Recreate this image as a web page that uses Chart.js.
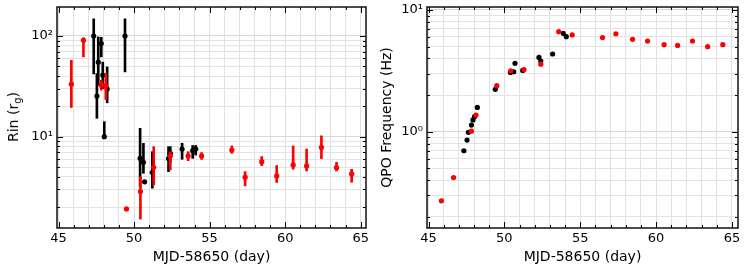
<!DOCTYPE html>
<html>
<head>
<meta charset="utf-8">
<script src="https://cdn.jsdelivr.net/npm/chart.js@4"></script>
<style>
  body { margin: 0; background: #fff; width: 747px; height: 272px; position: relative; overflow: hidden; }
  canvas { position: absolute; top: 0; }
  #left { left: 0; }
  #right { left: 370px; }
  #ylab {
    position: absolute; left: 12.5px; top: 117px;
    transform: translate(-50%, -50%) rotate(-90deg);
    font: 14px "DejaVu Sans"; white-space: nowrap; color: #000;
  }
  #ylab sub { font-size: 70%; vertical-align: -0.3em; line-height: 0; }
</style>
</head>
<body>
<canvas id="left" width="370" height="272"></canvas>
<canvas id="right" width="377" height="272"></canvas>
<div id="ylab">Rin (r<sub>g</sub>)</div>
<script>
// ====== DATA ======
// red observations (same days in both panels)
const redDays = [45.85, 46.65, 47.83, 48.13, 49.5, 50.42, 51.3, 52.4, 53.58, 54.47,
  56.47, 57.35, 58.45, 59.44, 60.53, 61.42, 62.4, 63.4, 64.4];
const redRin = [33.2, 90.6, 32.5, 32, 1.92, 2.85, 4.97, 6.45, 6.45, 6.45,
  7.38, 3.96, 5.65, 4.08, 5.24, 5.13, 7.83, 4.93, 4.27];
const redRinLo = [19.5, 62, 29, 23.4, 1.86, 1.52, 3.32, 4.68, 5.78, 5.95,
  6.84, 3.25, 5.16, 3.51, 4.75, 4.57, 6.06, 4.57, 3.53];
const redRinHi = [57.4, 96, 36.4, 42.4, 1.98, 4.0, 7.96, 7.1, 7.1, 6.95,
  8.1, 4.5, 6.34, 5.17, 8.09, 7.55, 10.2, 5.57, 4.75];
const redQpo = [0.271, 0.421, 1.01, 1.37, 2.39, 3.17, 3.24, 3.59, 6.64, 6.24,
  5.93, 6.38, 5.74, 5.56, 5.19, 5.12, 5.56, 5.0, 5.19];

// black observations
const blackDays = [47.33, 47.54, 47.63, 47.83, 47.93, 48.03, 48.22, 49.4, 50.4, 50.62,
  50.7, 51.21, 52.28, 52.4, 53.18, 53.88, 54.08];
const blackRin = [100, 25.3, 55, 84, 41, 10, 29.7, 100, 6.1, 5.57,
  3.56, 4.43, 6.06, 6.84, 7.55, 7.27, 7.55];
const blackRinLo = [42, 15.2, 32.5, 62, 30, 9.9, 21.7, 44, 3.2, 4.33,
  3.55, 3.08, 4.5, 5.6, 5.97, 6.1, 6.57];
const blackRinHi = [148, 42.4, 97.7, 97, 55, 14.1, 49.3, 148, 12.1, 8.6,
  3.57, 7.1, 7.96, 7.96, 8.6, 8.18, 8.18];
const blackQpo = [0.698, 0.855, 0.99, 1.135, 1.25, 1.33, 1.585, 2.23, 3.07, 3.11,
  3.65, 3.19, 4.08, 3.81, 4.35, 6.43, 6.04];

// tick labels
const xTickLabels = [45, 50, 55, 60, 65];
const sup = { "-1": "⁻¹", "0": "⁰", "1": "¹", "2": "²" };

// ====== HELPERS ======
const FONT = "DejaVu Sans";

function points(xs, ys) {
  return xs.map((x, i) => ({ x, y: ys[i] }));
}
function errBars(xs, lo, hi) {
  return xs.map((x, i) => ({ x, y: [lo[i], hi[i]] }));
}

function dotSet(data, color, order) {
  return { type: "scatter", data, backgroundColor: color, borderWidth: 0,
    pointRadius: 2.6, pointHoverRadius: 2.6, order };
}
function errSet(data, color, order) {
  return { type: "bar", data, backgroundColor: color, borderWidth: 0,
    barThickness: 2, grouped: false, order };
}

// inward ticks on all four sides + frame
const frameTicks = {
  id: "frameTicks",
  afterDraw(chart) {
    const { ctx, chartArea: a, scales } = chart;
    ctx.save();
    ctx.strokeStyle = "#000";
    ctx.lineWidth = 1;
    ctx.beginPath();
    scales.x.ticks.forEach((t) => {
      const p = Math.round(scales.x.getPixelForValue(t.value)) + 0.5;
      const len = t.major ? 6 : 3;
      ctx.moveTo(p, a.bottom); ctx.lineTo(p, a.bottom - len);
      ctx.moveTo(p, a.top); ctx.lineTo(p, a.top + len);
    });
    scales.y.ticks.forEach((t) => {
      const p = Math.round(scales.y.getPixelForValue(t.value)) + 0.5;
      const len = t.major ? 6 : 3;
      ctx.moveTo(a.left, p); ctx.lineTo(a.left + len, p);
      ctx.moveTo(a.right, p); ctx.lineTo(a.right - len, p);
    });
    ctx.stroke();
    ctx.lineWidth = 1.5;
    ctx.strokeStyle = "#111";
    ctx.strokeRect(a.left, a.top, a.right - a.left, a.bottom - a.top);
    ctx.restore();
  },
};

function makeChart(id, datasets, xr, yr, yTitle, rightPad) {
  return new Chart(document.getElementById(id), {
    type: "scatter",
    data: { datasets },
    plugins: [frameTicks],
    options: {
      responsive: false,
      animation: false,
      devicePixelRatio: 1,
      layout: { padding: { left: 0, right: rightPad, top: 7, bottom: 0 } },
      plugins: { legend: { display: false }, tooltip: { enabled: false } },
      scales: {
        x: {
          type: "linear", min: xr[0], max: xr[1], offset: false,
          grid: { offset: false, drawTicks: false, color: "#e0e0e0", lineWidth: 1 },
          border: { display: false },
          afterBuildTicks(s) {
            const t = [];
            for (let v = 45; v <= 65; v++) t.push({ value: v, major: xTickLabels.includes(v) });
            s.ticks = t;
          },
          afterFit(s) { s.height = 44; s.paddingLeft = 0; s.paddingRight = 0; },
          ticks: {
            autoSkip: false, maxRotation: 0, padding: 3, color: "#000",
            font: { family: FONT, size: 13 },
            callback: (v) => (xTickLabels.includes(v) ? String(v) : ""),
          },
          title: { display: true, text: "MJD-58650 (day)", color: "#000",
            font: { family: FONT, size: 14 }, padding: { top: 0, bottom: 6.5 } },
        },
        y: {
          type: "logarithmic", min: yr[0], max: yr[1],
          grid: { drawTicks: false, lineWidth: 1,
            color: (c) => (c.tick && c.tick.major ? "#d6d6d6" : "#e3e3e3") },
          border: { display: false },
          afterBuildTicks(s) {
            const t = [];
            const e0 = Math.floor(Math.log10(yr[0]));
            const e1 = Math.ceil(Math.log10(yr[1]));
            for (let e = e0; e <= e1; e++) {
              for (let k = 1; k <= 9; k++) {
                const v = k * Math.pow(10, e);
                if (v >= yr[0] && v <= yr[1]) t.push({ value: v, major: k === 1, exp: e });
              }
            }
            s.ticks = t;
          },
          afterFit(s) { s.width = 57; s.paddingTop = 0; s.paddingBottom = 0; },
          ticks: {
            autoSkip: false, padding: 4, color: "#000",
            font: { family: FONT, size: 13 },
            callback: (v, i, ticks) => (ticks[i].major ? "10" + sup[ticks[i].exp] : ""),
          },
          title: { display: !!yTitle, text: yTitle, color: "#000",
            font: { family: FONT, size: 14 }, padding: { top: 9, bottom: 0 } },
        },
      },
    },
  });
}

// ====== LEFT: Rin ======
makeChart("left", [
  dotSet(points(redDays, redRin), "#ff0000", 0),
  errSet(errBars(redDays, redRinLo, redRinHi), "#ff0000", 1),
  dotSet(points(blackDays, blackRin), "#000000", 2),
  errSet(errBars(blackDays, blackRinLo, blackRinHi), "#000000", 3),
], [44.9, 65.35], [1.24, 194], "", 4);

// ====== RIGHT: QPO frequency ======
makeChart("right", [
  dotSet(points(redDays, redQpo), "#ff0000", 0),
  dotSet(points(blackDays, blackQpo), "#000000", 2),
], [44.9, 65.4], [0.162, 10.58], "QPO Frequency (Hz)", 9);
</script>
</body>
</html>
